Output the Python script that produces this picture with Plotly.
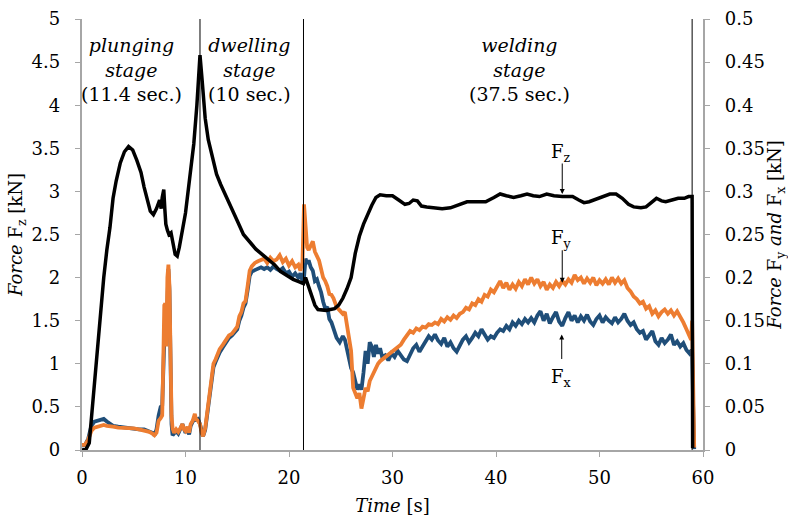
import plotly.graph_objects as go

# ---- Fz (left axis, kN) ----
fz_time = [
    0.0, 0.4, 0.7, 1.0, 1.4, 1.8, 2.1, 2.4, 2.7, 3.0,
    3.3, 3.7, 4.1, 4.5, 4.9, 5.3, 5.7, 6.0, 6.3, 6.6,
    6.9, 7.2, 7.5, 7.65, 7.75, 7.9, 8.0, 8.1, 8.25, 8.4,
    8.6, 8.8, 9.0, 9.2, 9.4, 9.7, 10.0, 10.4, 10.8, 11.1,
    11.4, 11.6, 11.9, 12.2, 12.6, 13.0, 13.4, 13.9, 14.4, 15.0,
    15.6, 16.2, 16.8, 17.4, 18.0, 18.6, 19.2, 19.8, 20.4, 21.0,
    21.4, 21.6, 21.9, 22.2, 22.5, 22.8, 23.2, 23.6, 24.0, 24.4,
    24.8, 25.2, 25.6, 26.0, 26.4, 26.8, 27.2, 27.6, 28.0, 28.4,
    28.8, 29.4, 30.0, 30.6, 31.2, 31.6, 32.0, 32.4, 32.8, 33.3,
    34.0, 34.8, 35.6, 36.4, 37.2, 38.0, 39.0, 39.8, 40.4, 41.0,
    41.7, 42.4, 43.0, 43.6, 44.2, 44.9, 45.6, 46.4, 47.4, 48.0,
    48.5, 49.0, 49.6, 50.4, 51.0, 51.6, 52.2, 52.8, 53.3, 54.0,
    54.5, 55.0, 55.5, 56.0, 56.4, 57.0, 57.6, 58.2, 58.6, 58.95,
    59.0,
]
fz_kn = [
    0.0, 0.01, 0.08, 0.5, 1.05, 1.6, 2.0, 2.32, 2.58, 2.92,
    3.12, 3.33, 3.46, 3.52, 3.48, 3.36, 3.22, 3.05, 2.9, 2.77,
    2.73, 2.8, 2.9, 2.8, 2.93, 3.02, 2.8, 2.62, 2.55, 2.5,
    2.52, 2.4, 2.27, 2.25, 2.35, 2.55, 2.75, 3.15, 3.55, 4.0,
    4.58, 4.3, 3.85, 3.6, 3.38, 3.2, 3.08, 2.95, 2.84, 2.66,
    2.5, 2.41, 2.33, 2.27, 2.21, 2.15, 2.07, 2.02, 1.98, 1.95,
    1.93, 2.0, 1.9, 1.78, 1.68, 1.63, 1.62, 1.62, 1.63, 1.64,
    1.68, 1.76, 1.87, 2.0, 2.28, 2.48, 2.62, 2.74, 2.84, 2.93,
    2.96, 2.95, 2.95, 2.9, 2.85, 2.86, 2.9, 2.89, 2.83, 2.82,
    2.81, 2.8, 2.81, 2.84, 2.88, 2.88, 2.88, 2.93, 2.97, 2.95,
    2.93, 2.95, 2.97, 2.95, 2.94, 2.97, 2.95, 2.94, 2.94, 2.9,
    2.87, 2.88, 2.91, 2.95, 2.97, 2.97, 2.92, 2.85, 2.82, 2.81,
    2.82, 2.87, 2.92, 2.89, 2.88, 2.9, 2.92, 2.92, 2.94, 2.94,
    0.02,
]

# ---- Fx and Fy (right axis, kN) ----
fxy_time = [
    0.0, 0.3, 0.6, 0.9, 1.2, 1.5, 1.8, 2.1, 2.4, 2.7,
    3.0, 3.5, 4.0, 4.5, 5.0, 5.5, 6.0, 6.5, 6.8, 7.0,
    7.2, 7.4, 7.6, 7.75, 7.85, 7.95, 8.05, 8.15, 8.25, 8.35,
    8.45, 8.55, 8.65, 8.75, 8.9, 9.1, 9.3, 9.5, 9.7, 9.85,
    10.0, 10.2, 10.35, 10.5, 10.7, 10.9, 11.0, 11.2, 11.4, 11.55,
    11.7, 11.9, 12.1, 12.3, 12.5, 12.7, 12.9, 13.1, 13.3, 13.6,
    13.9, 14.2, 14.5, 14.8, 15.0, 15.2, 15.4, 15.6, 15.8, 16.0,
    16.2, 16.4, 16.7, 17.0, 17.3, 17.6, 17.9, 18.2, 18.5, 18.8,
    19.1, 19.4, 19.7, 20.0, 20.3, 20.6, 20.9, 21.1, 21.3, 21.45,
    21.6, 21.75, 21.9, 22.1, 22.3, 22.5, 22.7, 22.9, 23.1, 23.3,
    23.5, 23.7, 23.9, 24.1, 24.3, 24.6, 24.9, 25.2, 25.4, 25.6,
    25.8, 26.0, 26.2, 26.4, 26.6, 26.8, 27.0, 27.2, 27.4, 27.6,
    27.8, 28.0, 28.2, 28.4, 28.6, 28.8, 29.0, 29.3, 29.6, 29.9,
    30.2, 30.5, 30.8, 31.1, 31.4, 31.7, 32.0, 32.3, 32.6, 32.9,
    33.2, 33.5, 33.8, 34.1, 34.4, 34.7, 35.0, 35.3, 35.6, 35.9,
    36.2, 36.5, 36.8, 37.1, 37.4, 37.7, 38.0, 38.3, 38.6, 38.9,
    39.2, 39.5, 39.8, 40.1, 40.4, 40.7, 41.0, 41.3, 41.6, 41.9,
    42.2, 42.5, 42.8, 43.1, 43.4, 43.7, 44.0, 44.3, 44.6, 44.9,
    45.2, 45.5, 45.8, 46.1, 46.4, 46.7, 47.0, 47.3, 47.6, 47.9,
    48.2, 48.5, 48.8, 49.1, 49.4, 49.7, 50.0, 50.3, 50.6, 50.9,
    51.2, 51.5, 51.8, 52.1, 52.4, 52.7, 53.0, 53.3, 53.6, 53.9,
    54.2, 54.5, 54.8, 55.1, 55.4, 55.7, 56.0, 56.3, 56.6, 56.9,
    57.2, 57.5, 57.8, 58.1, 58.4, 58.7, 58.85, 58.95, 59.05, 59.15,
]
fy_kn = [
    0.006, 0.006, 0.012, 0.022, 0.026, 0.027, 0.028, 0.029, 0.028, 0.027,
    0.027, 0.026, 0.026, 0.025, 0.025, 0.024, 0.023, 0.021, 0.019, 0.017,
    0.020, 0.034, 0.037, 0.040, 0.100, 0.168, 0.170, 0.120, 0.200, 0.215,
    0.190, 0.100, 0.040, 0.025, 0.020, 0.024, 0.021, 0.025, 0.030, 0.024,
    0.022, 0.027, 0.020, 0.030, 0.034, 0.042, 0.036, 0.034, 0.030, 0.020,
    0.016, 0.025, 0.045, 0.065, 0.085, 0.100, 0.105, 0.112, 0.117, 0.122,
    0.128, 0.133, 0.135, 0.140, 0.143, 0.155, 0.160, 0.170, 0.173, 0.190,
    0.208, 0.213, 0.217, 0.219, 0.220, 0.222, 0.217, 0.223, 0.219, 0.221,
    0.226, 0.218, 0.222, 0.214, 0.219, 0.212, 0.215, 0.208, 0.218, 0.285,
    0.260, 0.235, 0.232, 0.238, 0.242, 0.230, 0.225, 0.220, 0.210, 0.200,
    0.196, 0.190, 0.181, 0.180, 0.176, 0.166, 0.162, 0.158, 0.160, 0.145,
    0.130, 0.115, 0.072, 0.065, 0.060, 0.066, 0.048, 0.060, 0.072, 0.068,
    0.080, 0.085, 0.090, 0.097, 0.100, 0.103, 0.105, 0.107, 0.110, 0.113,
    0.117, 0.120, 0.122, 0.128, 0.133, 0.138, 0.136, 0.141, 0.139, 0.143,
    0.142, 0.146, 0.145, 0.148, 0.146, 0.152, 0.149, 0.154, 0.151, 0.156,
    0.153, 0.158, 0.160, 0.165, 0.163, 0.170, 0.168, 0.175, 0.172, 0.180,
    0.178, 0.186, 0.183, 0.190, 0.196, 0.188, 0.194, 0.186, 0.192, 0.187,
    0.195, 0.190, 0.198, 0.192, 0.200, 0.193, 0.198, 0.190, 0.195, 0.186,
    0.192, 0.188, 0.195, 0.190, 0.196, 0.192, 0.198, 0.194, 0.203, 0.197,
    0.200, 0.193, 0.199, 0.194, 0.200, 0.191, 0.197, 0.193, 0.198, 0.192,
    0.200, 0.194, 0.199, 0.193, 0.197, 0.188, 0.184, 0.178, 0.175, 0.170,
    0.172, 0.164, 0.167, 0.158, 0.162, 0.155, 0.160, 0.163, 0.158, 0.162,
    0.156, 0.161, 0.155, 0.148, 0.140, 0.133, 0.128, 0.150, 0.060, 0.003,
]
fx_kn = [
    0.005, 0.006, 0.013, 0.028, 0.033, 0.034, 0.035, 0.036, 0.033, 0.030,
    0.028, 0.027, 0.026, 0.025, 0.025, 0.024, 0.024, 0.022, 0.020, 0.017,
    0.024, 0.040, 0.050, 0.052, 0.100, 0.160, 0.165, 0.130, 0.195, 0.210,
    0.185, 0.090, 0.030, 0.017, 0.020, 0.022, 0.019, 0.024, 0.030, 0.025,
    0.020, 0.026, 0.018, 0.028, 0.034, 0.038, 0.035, 0.036, 0.030, 0.020,
    0.016, 0.023, 0.042, 0.062, 0.082, 0.096, 0.102, 0.108, 0.113, 0.119,
    0.125, 0.130, 0.133, 0.137, 0.140, 0.150, 0.156, 0.165, 0.170, 0.185,
    0.202, 0.207, 0.209, 0.211, 0.212, 0.210, 0.212, 0.209, 0.213, 0.210,
    0.208, 0.211, 0.205, 0.207, 0.201, 0.205, 0.200, 0.205, 0.196, 0.200,
    0.222, 0.216, 0.220, 0.212, 0.208, 0.196, 0.198, 0.190, 0.183, 0.172,
    0.164, 0.166, 0.152, 0.148, 0.140, 0.130, 0.125, 0.132, 0.128, 0.115,
    0.105, 0.095, 0.090, 0.078, 0.070, 0.076, 0.070, 0.090, 0.115, 0.100,
    0.125, 0.120, 0.108, 0.122, 0.112, 0.118, 0.108, 0.110, 0.104, 0.112,
    0.108, 0.115, 0.110, 0.105, 0.103, 0.112, 0.118, 0.122, 0.114, 0.120,
    0.126, 0.132, 0.128, 0.134, 0.127, 0.123, 0.130, 0.120, 0.125, 0.118,
    0.114, 0.122, 0.128, 0.132, 0.125, 0.130, 0.136, 0.132, 0.140, 0.134,
    0.128, 0.132, 0.130, 0.136, 0.140, 0.138, 0.144, 0.140, 0.148, 0.144,
    0.150, 0.146, 0.152, 0.148, 0.153, 0.148, 0.156, 0.161, 0.150, 0.158,
    0.147, 0.154, 0.160, 0.149, 0.144, 0.153, 0.160, 0.150, 0.156, 0.148,
    0.155, 0.150, 0.157, 0.149, 0.145, 0.152, 0.156, 0.148, 0.154, 0.150,
    0.147, 0.154, 0.148, 0.152, 0.158, 0.150, 0.145, 0.148, 0.140, 0.136,
    0.138, 0.128, 0.134, 0.138, 0.126, 0.122, 0.130, 0.124, 0.128, 0.134,
    0.122, 0.126, 0.120, 0.124, 0.116, 0.112, 0.115, 0.115, 0.050, 0.001,
]
assert len(fz_time) == len(fz_kn)
assert len(fxy_time) == len(fx_kn) == len(fy_kn)

# stage boundaries [s] and stage captions
stage_bounds = [11.4, 21.4, 58.95]
stage_names = ["plunging", "dwelling", "welding"]
stage_durations = ["11.4 sec.", "10 sec.", "37.5 sec."]
stage_label_x = [4.8, 16.2, 42.3]

FONT = "DejaVu Serif"
AXIS_GRAY = "#A6A6A6"
FS = 18
PAD = "\u00a0\u00a0"  # spacing between y tick labels and their axis

fig = go.Figure()
fig.add_trace(go.Scatter(x=fxy_time, y=fx_kn, mode="lines", name="Fx",
                         line=dict(color="#1F4E79", width=3.8), yaxis="y"))
fig.add_trace(go.Scatter(x=fxy_time, y=fy_kn, mode="lines", name="Fy",
                         line=dict(color="#ED7D31", width=3.8), yaxis="y"))
fig.add_trace(go.Scatter(x=fz_time, y=fz_kn, mode="lines", name="Fz",
                         line=dict(color="black", width=3.5), yaxis="y2"))

shapes = [dict(type="line", xref="x", yref="paper", x0=b, x1=b, y0=0, y1=1,
               line=dict(color="black", width=1)) for b in stage_bounds]

annotations = []
for name, dur, lx in zip(stage_names, stage_durations, stage_label_x):
    annotations.append(dict(
        x=lx, y=4.42, xref="x", yref="y2", showarrow=False,
        text=f"<i>{name}</i><br><i>stage</i><br>({dur})",
        font=dict(family=FONT, size=19, color="black"),
        xanchor="center", yanchor="middle", align="center"))

# component labels with arrows
lbl_font = dict(family=FONT, size=FS, color="black")
annotations += [
    dict(x=46.4, y=2.97, xref="x", yref="y2", ax=0, ay=-32, text="",
         showarrow=True, arrowhead=2, arrowsize=1, arrowwidth=1, arrowcolor="black"),
    dict(x=46.3, y=3.45, xref="x", yref="y2", text="F<sub>z</sub>", showarrow=False,
         font=lbl_font),
    dict(x=46.4, y=0.194, xref="x", yref="y", ax=0, ay=-34, text="",
         showarrow=True, arrowhead=2, arrowsize=1, arrowwidth=1, arrowcolor="black"),
    dict(x=46.3, y=0.245, xref="x", yref="y", text="F<sub>y</sub>", showarrow=False,
         font=lbl_font),
    dict(x=46.35, y=0.134, xref="x", yref="y", ax=0, ay=26, text="",
         showarrow=True, arrowhead=2, arrowsize=1, arrowwidth=1, arrowcolor="black"),
    dict(x=46.3, y=0.083, xref="x", yref="y", text="F<sub>x</sub>", showarrow=False,
         font=lbl_font),
]

axis_common = dict(showline=True, linecolor=AXIS_GRAY, linewidth=1.5,
                   ticks="outside", ticklen=5, tickcolor=AXIS_GRAY,
                   showgrid=False, zeroline=False, automargin=False,
                   tickfont=dict(family=FONT, size=FS, color="black"))

fig.update_layout(
    width=788, height=518,
    margin=dict(l=82, r=85, t=19, b=68),
    paper_bgcolor="white", plot_bgcolor="white",
    showlegend=False,
    font=dict(family=FONT, color="black"),
    xaxis=dict(range=[0, 60], dtick=10, ticklabelstandoff=6, **axis_common,
               title=dict(text="<i>Time</i> [s]", font=dict(family=FONT, size=FS),
                          standoff=12)),
    yaxis=dict(range=[0, 0.5], dtick=0.05, side="right", tickprefix=PAD,
               **axis_common,
               title=dict(text="<i>Force</i> F<sub>y</sub> <i>and</i> F<sub>x</sub> [kN]",
                          font=dict(family=FONT, size=FS), standoff=6)),
    yaxis2=dict(range=[0, 5], dtick=0.5, side="left", overlaying="y",
                ticksuffix=PAD, **axis_common,
                title=dict(text="<i>Force</i> F<sub>z</sub> [kN]",
                           font=dict(family=FONT, size=FS), standoff=4)),
    shapes=shapes,
    annotations=annotations,
)

fig.write_html("out.html")
